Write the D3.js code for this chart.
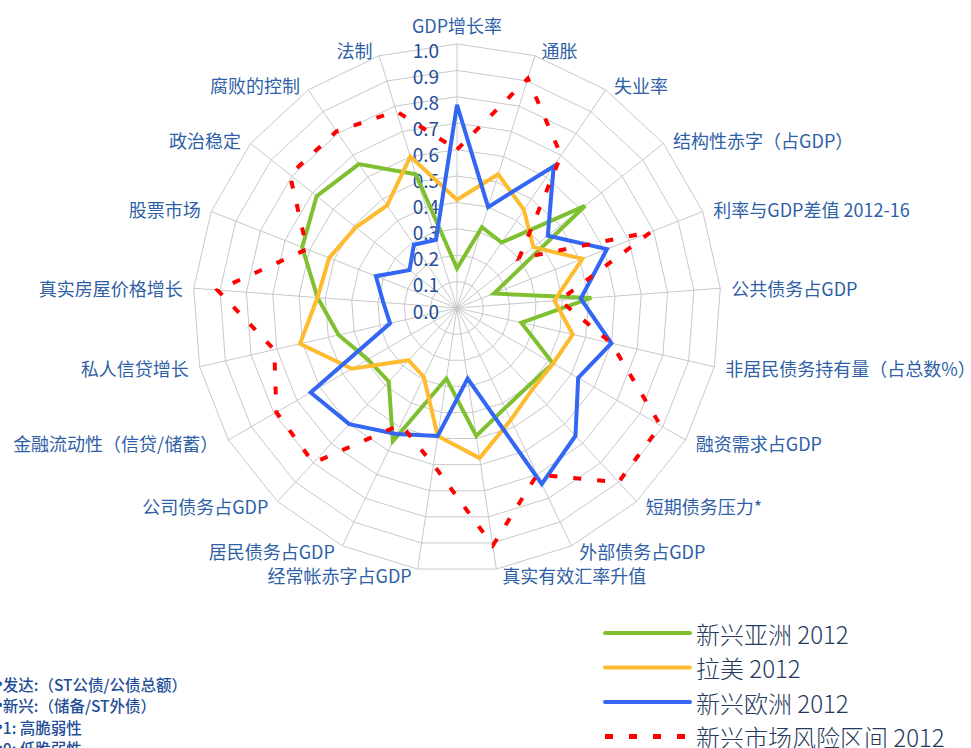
<!DOCTYPE html>
<head>
<meta charset="utf-8">
<style>
  body { margin: 0; background: #fff; }
  svg { display: block; font-family: "Noto Sans CJK SC", "Noto Sans", sans-serif; }
  .ring, .spoke { fill: none; stroke: #c8c8c8; stroke-width: 1; }
  .axis-label { fill: #2f5fa7; font-size: 18px; }
  .tick { fill: #1f4f99; font-size: 19px; }
  .legend text { fill: #253a5b; font-size: 24px; font-weight: 300; }
  .note { fill: #1f4e96; font-size: 15.5px; font-weight: 500; }
  .bullet { font-family: "Noto Sans", sans-serif; }
  .series { fill: none; stroke-linejoin: miter; }
</style>
<script src="https://d3js.org/d3.v7.min.js"></script>
</head>
<body>
<svg width="971" height="748"></svg>
<script>

var axes = ["GDP增长率", "通胀", "失业率", "结构性赤字（占GDP）", "利率与GDP差值 2012-16",
  "公共债务占GDP", "非居民债务持有量（占总数%）", "融资需求占GDP", "短期债务压力*",
  "外部债务占GDP", "真实有效汇率升值", "经常帐赤字占GDP", "居民债务占GDP", "公司债务占GDP",
  "金融流动性（信贷/储蓄）", "私人信贷增长", "真实房屋价格增长", "股票市场", "政治稳定",
  "腐败的控制", "法制"];

var asia   = [0.15, 0.32, 0.30, 0.62, 0.15, 0.51, 0.25, 0.42, 0.40, 0.42, 0.49, 0.27, 0.56, 0.38, 0.39, 0.46, 0.53, 0.63, 0.68, 0.66, 0.53];
var latam  = [0.41, 0.53, 0.45, 0.37, 0.51, 0.37, 0.45, 0.42, 0.42, 0.47, 0.575, 0.49, 0.29, 0.27, 0.46, 0.61, 0.53, 0.52, 0.49, 0.47, 0.60];
var europe = [0.77, 0.40, 0.65, 0.44, 0.61, 0.47, 0.60, 0.53, 0.66, 0.74, 0.27, 0.49, 0.53, 0.60, 0.64, 0.26, 0.28, 0.33, 0.23, 0.29, 0.27];
var risk   = [0.60, 0.91, 0.70, 0.30, 0.79, 0.39, 0.60, 0.89, 0.90, 0.70, 0.91, 0.60, 0.49, 0.80, 0.79, 0.71, 0.91, 0.61, 0.81, 0.81, 0.78];

var seriesNames = ["新兴亚洲 2012", "拉美 2012", "新兴欧洲 2012", "新兴市场风险区间 2012"];
var ticks = [0, 0.1, 0.2, 0.3, 0.4, 0.5, 0.6, 0.7, 0.8, 0.9, 1.0];
var notes = ["发达:（ST公债/公债总额）", "新兴:（储备/ST外债）", "1: 高脆弱性", "0: 低脆弱性"];

var svg = d3.select("svg"),
    cx = 457, cy = 308;

var r = d3.scaleLinear().domain([0, 1]).range([0, 264]);
var angle = d3.scaleLinear().domain([0, axes.length]).range([0, 2 * Math.PI]);

var g = svg.append("g").attr("transform", "translate(" + cx + "," + cy + ")");

// grid rings
var ring = d3.lineRadial()
    .angle(function(d, i) { return angle(i); })
    .radius(function(d) { return r(d); })
    .curve(d3.curveLinearClosed);

g.selectAll(".ring")
  .data(ticks.slice(1))
  .enter().append("path")
    .attr("class", "ring")
    .attr("d", function(t) { return ring(axes.map(function() { return t; })); });

g.selectAll(".spoke")
  .data(axes)
  .enter().append("line")
    .attr("class", "spoke")
    .attr("x1", 0).attr("y1", 0)
    .attr("x2", function(d, i) { return r(1) * Math.sin(angle(i)); })
    .attr("y2", function(d, i) { return -r(1) * Math.cos(angle(i)); });

// axis labels
g.selectAll(".axis-label")
  .data(axes)
  .enter().append("text")
    .attr("class", "axis-label")
    .each(function(d, i) {
      var a = angle(i), s = Math.sin(a), c = Math.cos(a), R = 270;
      var x = R * s, y = -R * c;
      var t = d3.select(this);
      if (Math.abs(s) < 0.01) {
        t.attr("text-anchor", "middle").attr("x", x).attr("y", y - 13);
      } else {
        t.attr("text-anchor", s > 0 ? "start" : "end")
         .attr("x", x + (s > 0 ? 5 : -5)).attr("y", y);
      }
      t.attr("dominant-baseline", "central").text(d);
    });

// tick labels
g.selectAll(".tick")
  .data(ticks)
  .enter().append("text")
    .attr("class", "tick")
    .attr("x", -18)
    .attr("y", function(d) { return -r(d) + 2 + d * 3; })
    .attr("text-anchor", "end")
    .attr("dominant-baseline", "central")
    .text(d3.format(".1f"));

// series
var line = d3.lineRadial()
    .angle(function(d, i) { return angle(i); })
    .radius(function(d) { return r(d); })
    .curve(d3.curveLinearClosed);

var series = [
  {values: asia,   color: "#7fc031", dash: null},
  {values: latam,  color: "#fdbb30", dash: null},
  {values: europe, color: "#3366f2", dash: null},
  {values: risk,   color: "#ff0000", dash: "8,16"}
];

g.selectAll(".series")
  .data(series)
  .enter().append("path")
    .attr("class", "series")
    .attr("d", function(d) { return line(d.values); })
    .attr("stroke", function(d) { return d.color; })
    .attr("stroke-width", 4)
    .attr("stroke-dasharray", function(d) { return d.dash; });

// legend
var legend = svg.append("g").attr("class", "legend")
  .selectAll("g")
  .data(series)
  .enter().append("g")
    .attr("transform", function(d, i) { return "translate(605," + (633 + i * 34.5) + ")"; });

legend.append("line")
    .attr("x1", 0).attr("x2", 85)
    .attr("stroke", function(d) { return d.color; })
    .attr("stroke-width", function(d) { return d.dash ? 5 : 4; })
    .attr("stroke-linecap", function(d) { return d.dash ? "butt" : "round"; })
    .attr("stroke-dasharray", function(d) { return d.dash; });

legend.append("text")
    .attr("x", 91)
    .attr("dominant-baseline", "central")
    .text(function(d, i) { return seriesNames[i]; });

// notes
var note = svg.selectAll(".note")
  .data(notes)
  .enter().append("text")
    .attr("class", "note")
    .attr("x", -3)
    .attr("y", function(d, i) { return 684 + i * 21.3; })
    .attr("dominant-baseline", "central");

note.append("tspan").attr("class", "bullet").text("•");
note.append("tspan").text(function(d) { return d; });

</script>
</body>
